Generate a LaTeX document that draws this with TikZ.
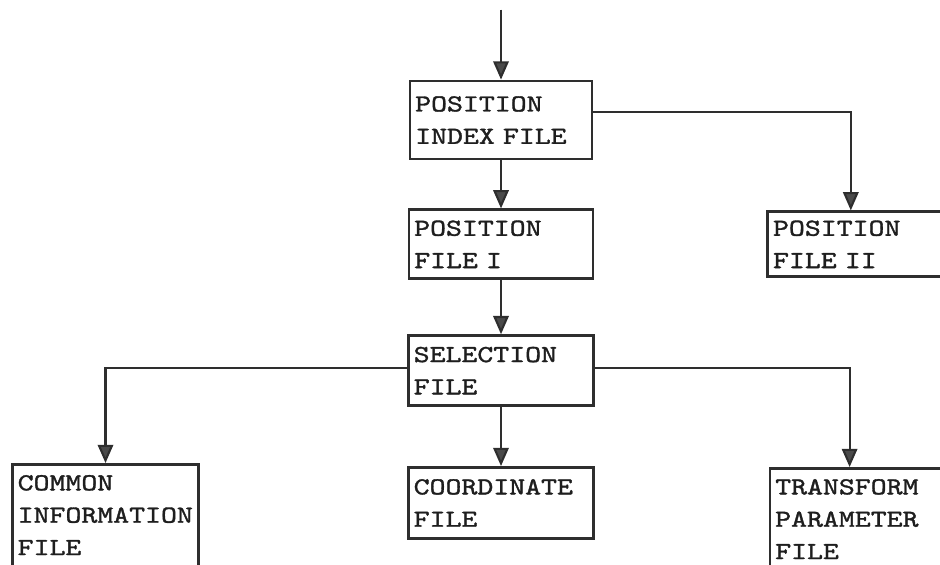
\documentclass[tikz,border=0pt]{standalone}
\usepackage{fontspec}
\setmonofont{lmmono10-regular.otf}[FakeStretch=1.24,FakeBold=1.4]
\usetikzlibrary{positioning,arrows.meta}
\definecolor{FileLine}{HTML}{2E2E2E}
\definecolor{FileHead}{HTML}{4A4A4A}
\definecolor{FileText}{HTML}{1E1E1E}

\tikzset{
  filebox/.style={draw=FileLine, line width=2pt, align=left, inner xsep=0.13cm, inner ysep=0pt,
    text=FileText, font=\ttfamily\fontsize{17.4}{23}\selectfont},
  openbox/.style={filebox, inner ysep=7.6pt, text depth=3cm},
  flow/.style={draw=FileLine, line width=1.5pt, -{Triangle[width=11pt,length=13pt,fill=FileHead]}}
}

\begin{document}
\begin{tikzpicture}
  \useasboundingbox (0,0) rectangle (23.5,-14.1);
  \clip (0,0) rectangle (23.5,-14.1);
  % main column
  \node[filebox, text width=4.29cm, minimum height=1.95cm] (idx) at (12.525,-3.0) {POSITION\\INDEX FILE};
  \node[filebox, text width=4.34cm, minimum height=1.725cm, below=1.2cm of idx] (pf1) {POSITION\\FILE I};
  \node[filebox, text width=4.365cm, minimum height=1.75cm, below=1.35cm of pf1] (sel) {SELECTION\\FILE};
  \node[filebox, text width=4.365cm, minimum height=1.775cm, below=1.475cm of sel] (coord) {COORDINATE\\FILE};
  % side boxes
  \node[filebox, text width=4.49cm, minimum height=1.625cm, right=4.3cm of pf1] (pf2) {POSITION\\FILE II};
  \node[openbox, text width=4.39cm, below=1.4cm of sel, xshift=-9.8875cm] (common) {COMMON\\INFORMATION\\FILE};
  \node[openbox, text width=4.54cm, below=1.5cm of sel, xshift=9.125cm] (trans) {TRANSFORM\\PARAMETER\\FILE};
  \coordinate[above=1.75cm of idx] (src);

  \draw[flow] (src) -- (idx);
  \draw[flow] (idx) -- (pf1);
  \draw[flow] ([yshift=0.2cm]idx.east) -| ([xshift=-0.3cm]pf2.north);
  \draw[flow] (pf1) -- (sel);
  \draw[flow] (sel) -- (coord);
  \draw[flow] ([yshift=0.075cm]sel.west) -| (common.north);
  \draw[flow] ([yshift=0.075cm]sel.east) -| ([xshift=-0.41cm]trans.north);
\end{tikzpicture}
\end{document}
